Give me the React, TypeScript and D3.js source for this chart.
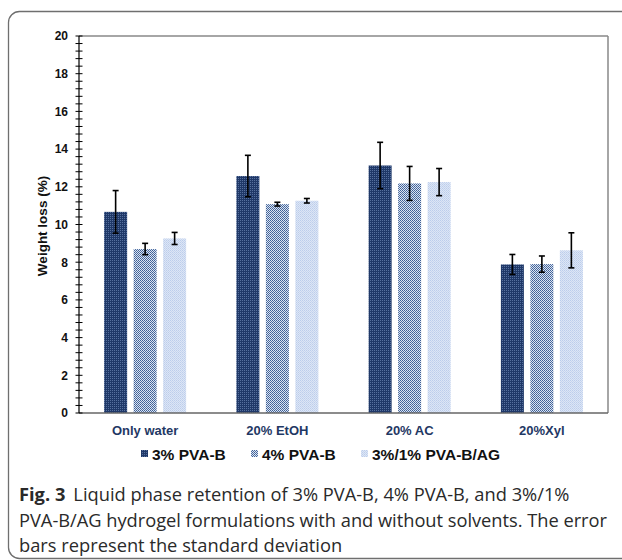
import React from "react";
import * as d3 from "d3";

const categories = ["Only water", "20% EtOH", "20% AC", "20%Xyl"];
const seriesNames = ["3% PVA-B", "4% PVA-B", "3%/1% PVA-B/AG"];
const pva3Values = [10.67, 12.57, 13.13, 7.88];
const pva3Errors = [1.13, 1.1, 1.23, 0.53];
const pva4Values = [8.7, 11.08, 12.18, 7.9];
const pva4Errors = [0.3, 0.1, 0.9, 0.43];
const pvaAgValues = [9.26, 11.26, 12.25, 8.63];
const pvaAgErrors = [0.32, 0.12, 0.72, 0.93];
const yMajorTicks = [0, 2, 4, 6, 8, 10, 12, 14, 16, 18, 20];

const seriesValues = [pva3Values, pva4Values, pvaAgValues];
const seriesErrors = [pva3Errors, pva4Errors, pvaAgErrors];
const patternIds = ["pat0", "pat1", "pat2"];

export default function App() {
  const W = 622;
  const H = 560;
  const left = 79;
  const right = 608;
  const top = 36;
  const bottom = 413;

  const x0 = d3.scaleBand<string>().domain(categories).range([left, right]).paddingInner(0.38).paddingOuter(0.19);
  const x1 = d3.scaleBand<string>().domain(seriesNames).range([0, x0.bandwidth()]).paddingInner(0.22).paddingOuter(0);
  const y = d3.scaleLinear().domain([0, 20]).range([bottom, top]);
  const minorTicks = d3.range(0, 20.001, 0.4);

  const bars: React.ReactNode[] = [];
  seriesNames.forEach((s, si) => {
    categories.forEach((c, ci) => {
      const v = seriesValues[si][ci];
      const e = seriesErrors[si][ci];
      const bx = (x0(c) as number) + (x1(s) as number);
      const bw = x1.bandwidth();
      const cx = bx + bw / 2;
      bars.push(
        <g key={`${si}-${ci}`}>
          <rect x={bx} y={y(v)} width={bw} height={y(0) - y(v)} fill={`url(#${patternIds[si]})`} />
          <line x1={cx} x2={cx} y1={y(v + e)} y2={y(v - e)} stroke="#000" strokeWidth={1.6} />
          <line x1={cx - 3} x2={cx + 3} y1={y(v + e)} y2={y(v + e)} stroke="#000" strokeWidth={1.6} />
          <line x1={cx - 3} x2={cx + 3} y1={y(v - e)} y2={y(v - e)} stroke="#000" strokeWidth={1.6} />
        </g>
      );
    });
  });

  const legendX = [141, 251, 361];

  return (
    <svg width={W} height={H} style={{ position: "absolute", left: 0, top: 0 }}>
      <defs>
        <pattern id="pat0" width={2} height={2} patternUnits="userSpaceOnUse">
          <rect width={2} height={2} fill="#1f3868" />
          <rect width={1} height={1} fill="#56709e" />
        </pattern>
        <pattern id="pat1" width={2} height={2} patternUnits="userSpaceOnUse">
          <rect width={2} height={2} fill="#dbe4f2" />
          <rect width={1} height={1} fill="#3e5f95" />
          <rect x={1} y={1} width={1} height={1} fill="#4f6fa2" />
        </pattern>
        <pattern id="pat2" width={2} height={2} patternUnits="userSpaceOnUse">
          <rect width={2} height={2} fill="#dde6f6" />
          <rect width={1} height={1} fill="#bccdeb" />
          <rect x={1} y={1} width={1} height={1} fill="#c6d5ee" />
        </pattern>
      </defs>
      <rect x={0} y={0} width={W} height={H} fill="#fff" />
      <rect x={8.5} y={11.5} width={720} height={547} rx={11} fill="none" stroke="#6f6f6f" strokeWidth={1.3} />

      <line x1={left} x2={right} y1={top} y2={top} stroke="#888" strokeWidth={1.5} />
      <line x1={right} x2={right} y1={top} y2={bottom} stroke="#888" strokeWidth={1.5} />

      {bars}

      <line x1={left} x2={right} y1={bottom} y2={bottom} stroke="#666" strokeWidth={1.5} />
      <line x1={left} x2={left} y1={top} y2={bottom} stroke="#000" strokeWidth={1.2} />
      {minorTicks.map((t, i) => (
        <line key={`m${i}`} x1={left - 3.5} x2={left + 3.5} y1={y(t)} y2={y(t)} stroke="#000" strokeWidth={1} />
      ))}
      {yMajorTicks.map((t) => (
        <text key={`t${t}`} x={68} y={y(t)} dy="0.36em" textAnchor="end" fontFamily="Liberation Sans, Arial, sans-serif" fontWeight="bold" fontSize={12} fill="#111">
          {t}
        </text>
      ))}
      <text transform={`translate(47,226) rotate(-90)`} textAnchor="middle" fontFamily="Liberation Sans, Arial, sans-serif" fontWeight="bold" fontSize={13.5} fill="#111">
        Weight loss (%)
      </text>

      {categories.map((c) => (
        <text key={c} x={(x0(c) as number) + x0.bandwidth() / 2} y={435} textAnchor="middle" fontFamily="Liberation Sans, Arial, sans-serif" fontWeight="bold" fontSize={13} fill="#1f3864">
          {c}
        </text>
      ))}

      {seriesNames.map((s, si) => (
        <g key={s}>
          <rect x={legendX[si]} y={450} width={7} height={7} fill={`url(#${patternIds[si]})`} />
          <text x={legendX[si] + 11} y={460} fontFamily="Liberation Sans, Arial, sans-serif" fontWeight="bold" fontSize={15.5} fill="#111">
            {s}
          </text>
        </g>
      ))}

      <text x={19} y={501} fontFamily="'Open Sans', 'Noto Sans', sans-serif" fontSize={18.3} fill="#2a2a2a">
        <tspan fontWeight="bold">Fig. 3</tspan>
        <tspan dx={8}>Liquid phase retention of 3% PVA-B, 4% PVA-B, and 3%/1%</tspan>
      </text>
      <text x={19} y={527} fontFamily="'Open Sans', 'Noto Sans', sans-serif" fontSize={18.3} fill="#2a2a2a" textLength={588} lengthAdjust="spacing">
        PVA-B/AG hydrogel formulations with and without solvents. The error
      </text>
      <text x={19} y={552} fontFamily="'Open Sans', 'Noto Sans', sans-serif" fontSize={18.3} fill="#2a2a2a">
        bars represent the standard deviation
      </text>
    </svg>
  );
}
